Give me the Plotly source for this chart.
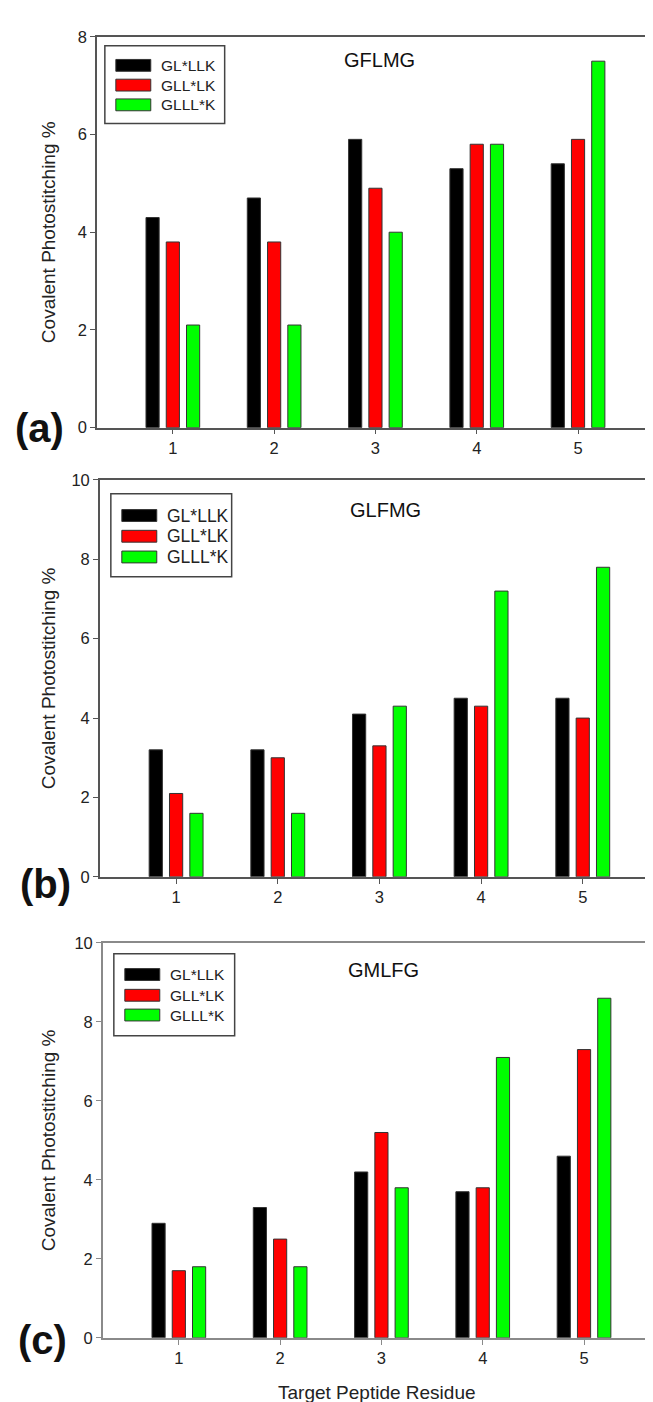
import plotly.graph_objects as go

W, H = 653, 1402

residues = [1, 2, 3, 4, 5]
series_names = ["GL*LLK", "GLL*LK", "GLLL*K"]
series_colors = ["#000000", "#ff0000", "#00ff00"]

# panel (a) GFLMG
a_gl_llk = [4.3, 4.7, 5.9, 5.3, 5.4]
a_gll_lk = [3.8, 3.8, 4.9, 5.8, 5.9]
a_glll_k = [2.1, 2.1, 4.0, 5.8, 7.5]
# panel (b) GLFMG
b_gl_llk = [3.2, 3.2, 4.1, 4.5, 4.5]
b_gll_lk = [2.1, 3.0, 3.3, 4.3, 4.0]
b_glll_k = [1.6, 1.6, 4.3, 7.2, 7.8]
# panel (c) GMLFG
c_gl_llk = [2.9, 3.3, 4.2, 3.7, 4.6]
c_gll_lk = [1.7, 2.5, 5.2, 3.8, 7.3]
c_glll_k = [1.8, 1.8, 3.8, 7.1, 8.6]

panel_titles = ["GFLMG", "GLFMG", "GMLFG"]
panel_tags = ["(a)", "(b)", "(c)"]
y_max = [8, 10, 10]
y_ticks = [[0, 2, 4, 6, 8], [0, 2, 4, 6, 8, 10], [0, 2, 4, 6, 8, 10]]
y_title = "Covalent Photostitching %"
x_title = "Target Peptide Residue"

panels_data = [
    [a_gl_llk, a_gll_lk, a_glll_k],
    [b_gl_llk, b_gll_lk, b_glll_k],
    [c_gl_llk, c_gll_lk, c_glll_k],
]

FONT = "Liberation Sans, Arial, sans-serif"

# pixel layout: (left, right, top, bottom)
boxes = [(89, 647, 20, 416), (92, 652, 469, 871), (95, 653, 938, 1338)]
legend_boxes = [(97, 217, 29, 108), (103, 224, 483, 567), (106, 227, 949, 1032)]
legend_rows = [[49, 69, 89], [505, 526, 547], [970, 991, 1011]]
legend_font = [15.5, 17.5, 15.5]
title_pos = [(372, 44), (378, 499), (376, 965)]
tag_pos = [(32, 416), (38, 878), (35, 1340)]
axis_colors = ["#555555", "#555555", "#8a8a8a"]


def px(x):
    return x / W


def py(y):
    return 1 - y / H


fig = go.Figure()
shapes = []
annotations = []

for i in range(3):
    xa = "x" if i == 0 else f"x{i+1}"
    ya = "y" if i == 0 else f"y{i+1}"
    for s in range(3):
        fig.add_trace(go.Bar(
            x=residues, y=panels_data[i][s], name=series_names[s],
            marker=dict(color=series_colors[s], line=dict(color="#333333", width=1)),
            xaxis=xa, yaxis=ya, showlegend=False,
        ))
    l, r, t, b = boxes[i]
    xk = "xaxis" if i == 0 else f"xaxis{i+1}"
    yk = "yaxis" if i == 0 else f"yaxis{i+1}"
    fig.layout[xk] = dict(
        domain=[px(l), px(r)], anchor=ya, range=[0.25, 5.75],
        tickmode="array", tickvals=residues, ticktext=[str(v) for v in residues],
        ticks="outside", ticklen=5, tickcolor=axis_colors[i],
        showline=True, linecolor=axis_colors[i], linewidth=1.5, mirror=True,
        showgrid=False, zeroline=False,
        tickfont=dict(family=FONT, size=16.5, color="#222222"),
    )
    fig.layout[yk] = dict(
        domain=[py(b), py(t)], anchor=xa, range=[0, y_max[i]],
        tickmode="array", tickvals=y_ticks[i],
        ticks="outside", ticklen=5, tickcolor=axis_colors[i],
        showline=True, linecolor=axis_colors[i], linewidth=1.5, mirror=(i < 2),
        showgrid=False, zeroline=False,
        tickfont=dict(family=FONT, size=16.5, color="#222222"),
    )
    # legend box
    bl, br, bt, bb = legend_boxes[i]
    shapes.append(dict(type="rect", xref="paper", yref="paper",
                       x0=px(bl), x1=px(br), y0=py(bb), y1=py(bt),
                       line=dict(color="#444444", width=1.5), fillcolor="white"))
    sx0 = bl + 11
    sx1 = bl + 46
    for s in range(3):
        cy = legend_rows[i][s]
        shapes.append(dict(type="rect", xref="paper", yref="paper",
                           x0=px(sx0), x1=px(sx1), y0=py(cy + 6), y1=py(cy - 6),
                           line=dict(color="#333333", width=1), fillcolor=series_colors[s]))
        annotations.append(dict(xref="paper", yref="paper", x=px(sx1 + 8), y=py(cy),
                                text=series_names[s], showarrow=False, xanchor="left",
                                yanchor="middle",
                                font=dict(family=FONT, size=legend_font[i], color="#222222")))
    # title
    tx, ty = title_pos[i]
    annotations.append(dict(xref="paper", yref="paper", x=px(tx), y=py(ty),
                            text=panel_titles[i], showarrow=False, xanchor="center", yanchor="middle",
                            font=dict(family=FONT, size=20, color="#111111")))
    # panel tag
    gx, gy = tag_pos[i]
    annotations.append(dict(xref="paper", yref="paper", x=px(gx), y=py(gy),
                            text=f"<b>{panel_tags[i]}</b>", showarrow=False,
                            xanchor="center", yanchor="middle",
                            font=dict(family=FONT, size=40, color="#111111")))
    # y title
    annotations.append(dict(xref="paper", yref="paper", x=px(40), y=py((t + b) / 2),
                            text=y_title, showarrow=False, textangle=-90,
                            xanchor="center", yanchor="middle",
                            font=dict(family=FONT, size=19, color="#222222")))

annotations.append(dict(xref="paper", yref="paper", x=px(370), y=py(1393),
                        text=x_title, showarrow=False, xanchor="center", yanchor="middle",
                        font=dict(family=FONT, size=19, color="#222222")))

fig.update_layout(
    width=W, height=H, autosize=False,
    margin=dict(l=0, r=0, t=0, b=0),
    paper_bgcolor="white", plot_bgcolor="white",
    barmode="group", bargap=0.4, bargroupgap=0.35,
    showlegend=False,
    shapes=shapes, annotations=annotations,
)

fig.write_html("out.html")
